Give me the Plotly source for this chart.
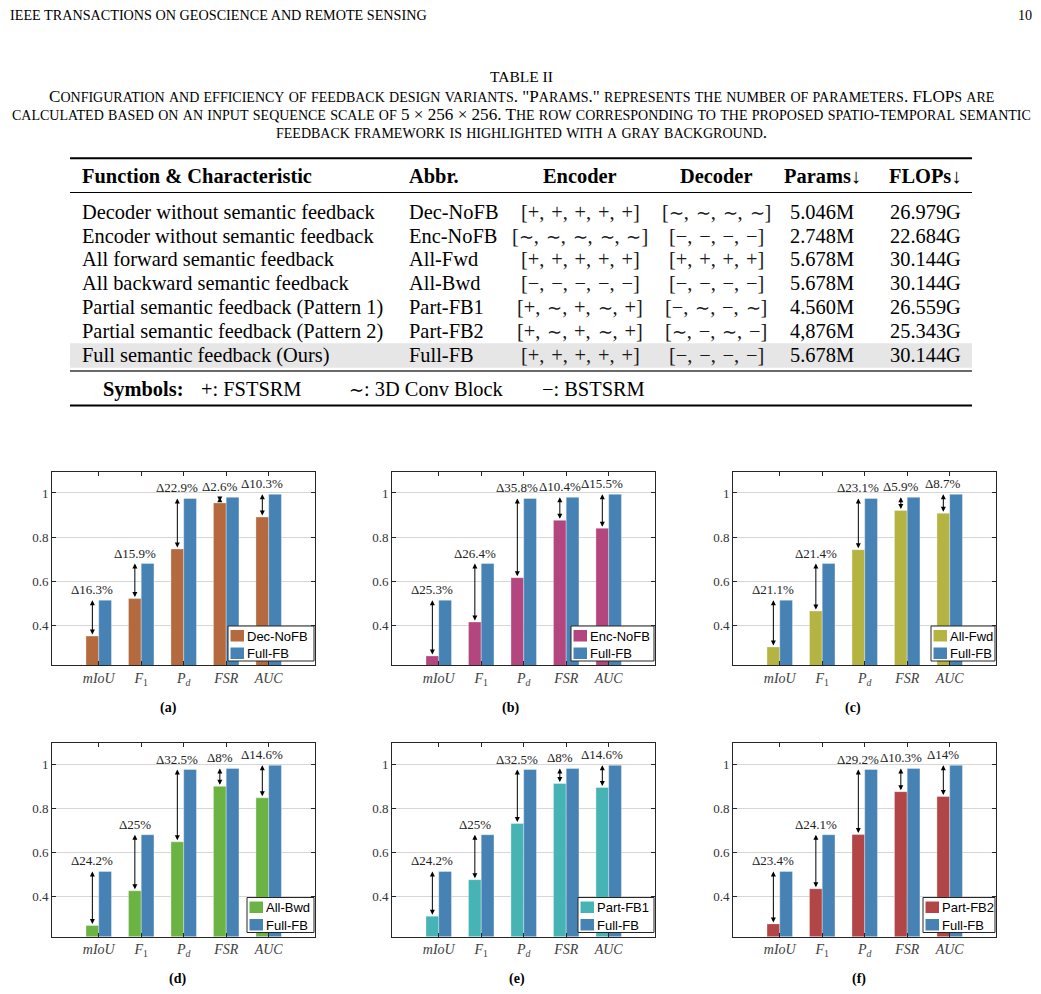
import re
import plotly.graph_objects as go

# the page puts the figure 8px in from the top-left corner of the window
OFF = 8
W, H = 1041 - OFF, 994 - OFF

# ---------------- table data ----------------
functions = [
    "Decoder without semantic feedback",
    "Encoder without semantic feedback",
    "All forward semantic feedback",
    "All backward semantic feedback",
    "Partial semantic feedback (Pattern 1)",
    "Partial semantic feedback (Pattern 2)",
    "Full semantic feedback (Ours)",
]
abbrs = ["Dec-NoFB", "Enc-NoFB", "All-Fwd", "All-Bwd", "Part-FB1", "Part-FB2", "Full-FB"]
encoders = [["+", "+", "+", "+", "+"], ["∼", "∼", "∼", "∼", "∼"], ["+", "+", "+", "+", "+"],
            ["−", "−", "−", "−", "−"], ["+", "∼", "+", "∼", "+"], ["+", "∼", "+", "∼", "+"],
            ["+", "+", "+", "+", "+"]]
decoders = [["∼", "∼", "∼", "∼"], ["−", "−", "−", "−"], ["+", "+", "+", "+"], ["−", "−", "−", "−"],
            ["−", "∼", "−", "∼"], ["∼", "−", "∼", "−"], ["−", "−", "−", "−"]]
params = ["5.046M", "2.748M", "5.678M", "5.678M", "4.560M", "4,876M", "5.678M"]
flops = ["26.979G", "22.684G", "30.144G", "30.144G", "26.559G", "25.343G", "30.144G"]
headers = ["Function &amp; Characteristic", "Abbr.", "Encoder", "Decoder", "Params↓", "FLOPs↓"]
symbols = ["+: FSTSRM", "∼: 3D Conv Block", "−: BSTSRM"]

caption = [
    'Configuration and efficiency of feedback design variants. "Params." represents the number of parameters. FLOPs are',
    "calculated based on an input sequence scale of 5 × 256 × 256. The row corresponding to the proposed spatio-temporal semantic",
    "feedback framework is highlighted with a gray background.",
]

# ---------------- chart data ----------------
metrics = ["mIoU", "F1", "Pd", "FSR", "AUC"]
metric_ticks = ["<i>mIoU</i>", "<i>F</i><sub>1</sub>", "<i>P</i><sub><i>d</i></sub>", "<i>FSR</i>", "<i>AUC</i>"]
full_fb = [0.514, 0.680, 0.975, 0.980, 0.994]

dec_nofb = [0.351, 0.521, 0.746, 0.955, 0.891]
enc_nofb = [0.261, 0.415, 0.616, 0.876, 0.840]
all_fwd = [0.302, 0.465, 0.743, 0.921, 0.908]
all_bwd = [0.270, 0.427, 0.648, 0.899, 0.847]
part_fb1 = [0.312, 0.477, 0.731, 0.912, 0.894]
part_fb2 = [0.277, 0.436, 0.681, 0.875, 0.853]

dec_nofb_delta = ["16.3", "15.9", "22.9", "2.6", "10.3"]
enc_nofb_delta = ["25.3", "26.4", "35.8", "10.4", "15.5"]
all_fwd_delta = ["21.1", "21.4", "23.1", "5.9", "8.7"]
all_bwd_delta = ["24.2", "25", "32.5", "8", "14.6"]
part_fb1_delta = ["24.2", "25", "32.5", "8", "14.6"]
part_fb2_delta = ["23.4", "24.1", "29.2", "10.3", "14"]

panel_labels = ["(a)", "(b)", "(c)", "(d)", "(e)", "(f)"]

variants = [
    ("Dec-NoFB", dec_nofb, dec_nofb_delta, "#B4693F"),
    ("Enc-NoFB", enc_nofb, enc_nofb_delta, "#B3467E"),
    ("All-Fwd", all_fwd, all_fwd_delta, "#B5B443"),
    ("All-Bwd", all_bwd, all_bwd_delta, "#6BB443"),
    ("Part-FB1", part_fb1, part_fb1_delta, "#46B4B4"),
    ("Part-FB2", part_fb2, part_fb2_delta, "#B24646"),
]
FULL_COLOR = "#4682B4"

SERIF = "Liberation Serif, Times New Roman, serif"
SANS = "Liberation Sans, Arial, sans-serif"
FS = 20.4  # table font size
SIM = '<span style="font-size:18px">∼</span>'  # the wide fallback glyph, shrunk a bit


# page pixel -> paper coords
def px(x):
    return (x - OFF) / W


def py(y):
    return 1 - (y - OFF) / H


annotations = []
shapes = []


def text(x, y, s, size=FS, anchor="left", bold=False, color="black", family=SERIF):
    if bold:
        s = "<b>" + s + "</b>"
    annotations.append(dict(x=px(x), y=py(y), xref="paper", yref="paper", text=s,
                            showarrow=False, xanchor=anchor, yanchor="middle",
                            font=dict(family=family, size=size, color=color)))


def hline(y, w=1.0, color="black", x0=70, x1=972):
    shapes.append(dict(type="line", xref="paper", yref="paper", x0=px(x0), x1=px(x1),
                       y0=py(y), y1=py(y), line=dict(color=color, width=w)))


def small_caps(s, small=14):
    return re.sub(r"[a-z]+", lambda m: '<span style="font-size:%gpx">%s</span>'
                  % (small, m.group(0).upper()), s)


def bracket(items):
    return ("[" + ",\u200a ".join(items) + "]").replace("∼", SIM)


# page header + caption
text(8, 14.5, "IEEE TRANSACTIONS ON GEOSCIENCE AND REMOTE SENSING", size=14.2)
text(1034, 14.5, "10", size=14.2, anchor="right")
text(521, 77, "TABLE II", size=15.5, anchor="center")
for i, line in enumerate(caption):
    text(521, 97 + i * 17.6, small_caps(line), size=17.1, anchor="center")

# table
col_x = [79.5, 406.5, 580, 716, 822, 925]
col_anchor = ["left", "left", "center", "center", "center", "center"]
shapes.append(dict(type="rect", xref="paper", yref="paper", x0=px(70), x1=px(972),
                   y0=py(367.7), y1=py(343.3), fillcolor="#e6e6e6", line=dict(width=0),
                   layer="below"))
hline(158.3, 2)
hline(192.5, 1.2)
hline(371, 2.2, "#6a6a6a")
hline(405.5, 2)
for j, h in enumerate(headers):
    text(col_x[j], 176, h, bold=True, anchor=col_anchor[j])
for i in range(len(functions)):
    y = 211.7 + i * 23.9
    row = [functions[i], abbrs[i], bracket(encoders[i]), bracket(decoders[i]), params[i], flops[i]]
    for j, cell in enumerate(row):
        text(col_x[j], y, cell, anchor=col_anchor[j], color="#1a1a1a" if j in (2, 3) else "black")
text(101, 389, "Symbols:", bold=True)
for sx, s in zip([199, 347, 540], symbols):
    text(sx, 389, s.replace("∼", SIM))

# bar charts
col_left = [52, 392, 733]
plot_w = 263
row_top = [472, 743]
row_bottom = [665, 936.5]
legend_w = [86, 83, 64, 67, 76, 72]
label_x = [[168, 510, 853], [177, 517, 859]]
label_y = [708, 979]

fig = go.Figure()
layout_axes = {}
for k, (name, vals, deltas, color) in enumerate(variants):
    r, c = divmod(k, 3)
    sfx = "" if k == 0 else str(k + 1)
    xr, yr = "x" + sfx, "y" + sfx
    x0 = col_left[c]
    x1 = x0 + plot_w
    y0, y1 = row_top[r], row_bottom[r]

    edge = dict(color="rgba(255,255,255,0.55)", width=0.6)
    fig.add_trace(go.Bar(x=metrics, y=vals, name=name, marker=dict(color=color, line=edge),
                         xaxis=xr, yaxis=yr))
    fig.add_trace(go.Bar(x=metrics, y=full_fb, name="Full-FB",
                         marker=dict(color=FULL_COLOR, line=edge), xaxis=xr, yaxis=yr))

    layout_axes["xaxis" + sfx] = dict(
        domain=[px(x0), px(x1)], anchor=yr, type="category", range=[-1.1, 5.09],
        tickmode="array", tickvals=metrics, ticktext=metric_ticks,
        showline=True, linecolor="#262626", linewidth=1, mirror="ticks",
        ticks="inside", ticklen=4, tickcolor="#262626", showgrid=False,
        tickfont=dict(family=SERIF, size=14, color="#404040"), fixedrange=True)
    layout_axes["yaxis" + sfx] = dict(
        domain=[py(y1), py(y0)], anchor=xr, range=[0.22, 1.095],
        tickmode="array", tickvals=[0.4, 0.6, 0.8, 1], ticktext=["0.4", "0.6", "0.8", "1"],
        showline=True, linecolor="#262626", linewidth=1, mirror="ticks",
        ticks="inside", ticklen=4, tickcolor="#262626", showgrid=True,
        gridcolor="#d6d6d6", gridwidth=1, zeroline=False,
        tickfont=dict(family=SERIF, size=13, color="#333333"), fixedrange=True)

    # difference arrows and labels, drawn on the left bar of each group
    for i in range(len(metrics)):
        annotations.append(dict(
            x=i - 0.15, y=full_fb[i], ax=i - 0.15, ay=vals[i], xref=xr, yref=yr,
            axref=xr, ayref=yr, text="", showarrow=True, arrowhead=2, startarrowhead=2,
            arrowside="end+start", arrowsize=1, startarrowsize=1, arrowwidth=1,
            arrowcolor="black", standoff=0, startstandoff=0))
        annotations.append(dict(
            x=i - 0.15, y=full_fb[i], xref=xr, yref=yr, text="Δ" + deltas[i] + "%",
            showarrow=False, yanchor="bottom", yshift=1,
            font=dict(family=SERIF, size=13, color="#222222")))

    # legend box
    lx1 = x1 - 1
    lx0 = lx1 - legend_w[k]
    ly1 = y1 - 4
    ly0 = ly1 - 35
    shapes.append(dict(type="rect", xref="paper", yref="paper", x0=px(lx0), x1=px(lx1),
                       y0=py(ly1), y1=py(ly0), fillcolor="white",
                       line=dict(color="#262626", width=1)))
    for n, (lab, col) in enumerate([(name, color), ("Full-FB", FULL_COLOR)]):
        sy = ly0 + 4 + n * 17.5
        shapes.append(dict(type="rect", xref="paper", yref="paper", x0=px(lx0 + 2.5),
                           x1=px(lx0 + 16), y0=py(sy + 11.5), y1=py(sy), fillcolor=col,
                           line=dict(width=0)))
        text(lx0 + 16.5, sy + 6, lab, size=13, family=SANS)

    text(label_x[r][c], label_y[r], panel_labels[k], size=14, anchor="center", bold=True)

fig.update_layout(
    width=W, height=H, margin=dict(l=0, r=0, t=0, b=0),
    paper_bgcolor="white", plot_bgcolor="white",
    barmode="group", bargap=0.4, bargroupgap=0, showlegend=False,
    annotations=annotations, shapes=shapes, **layout_axes)

fig.write_html("out.html")
